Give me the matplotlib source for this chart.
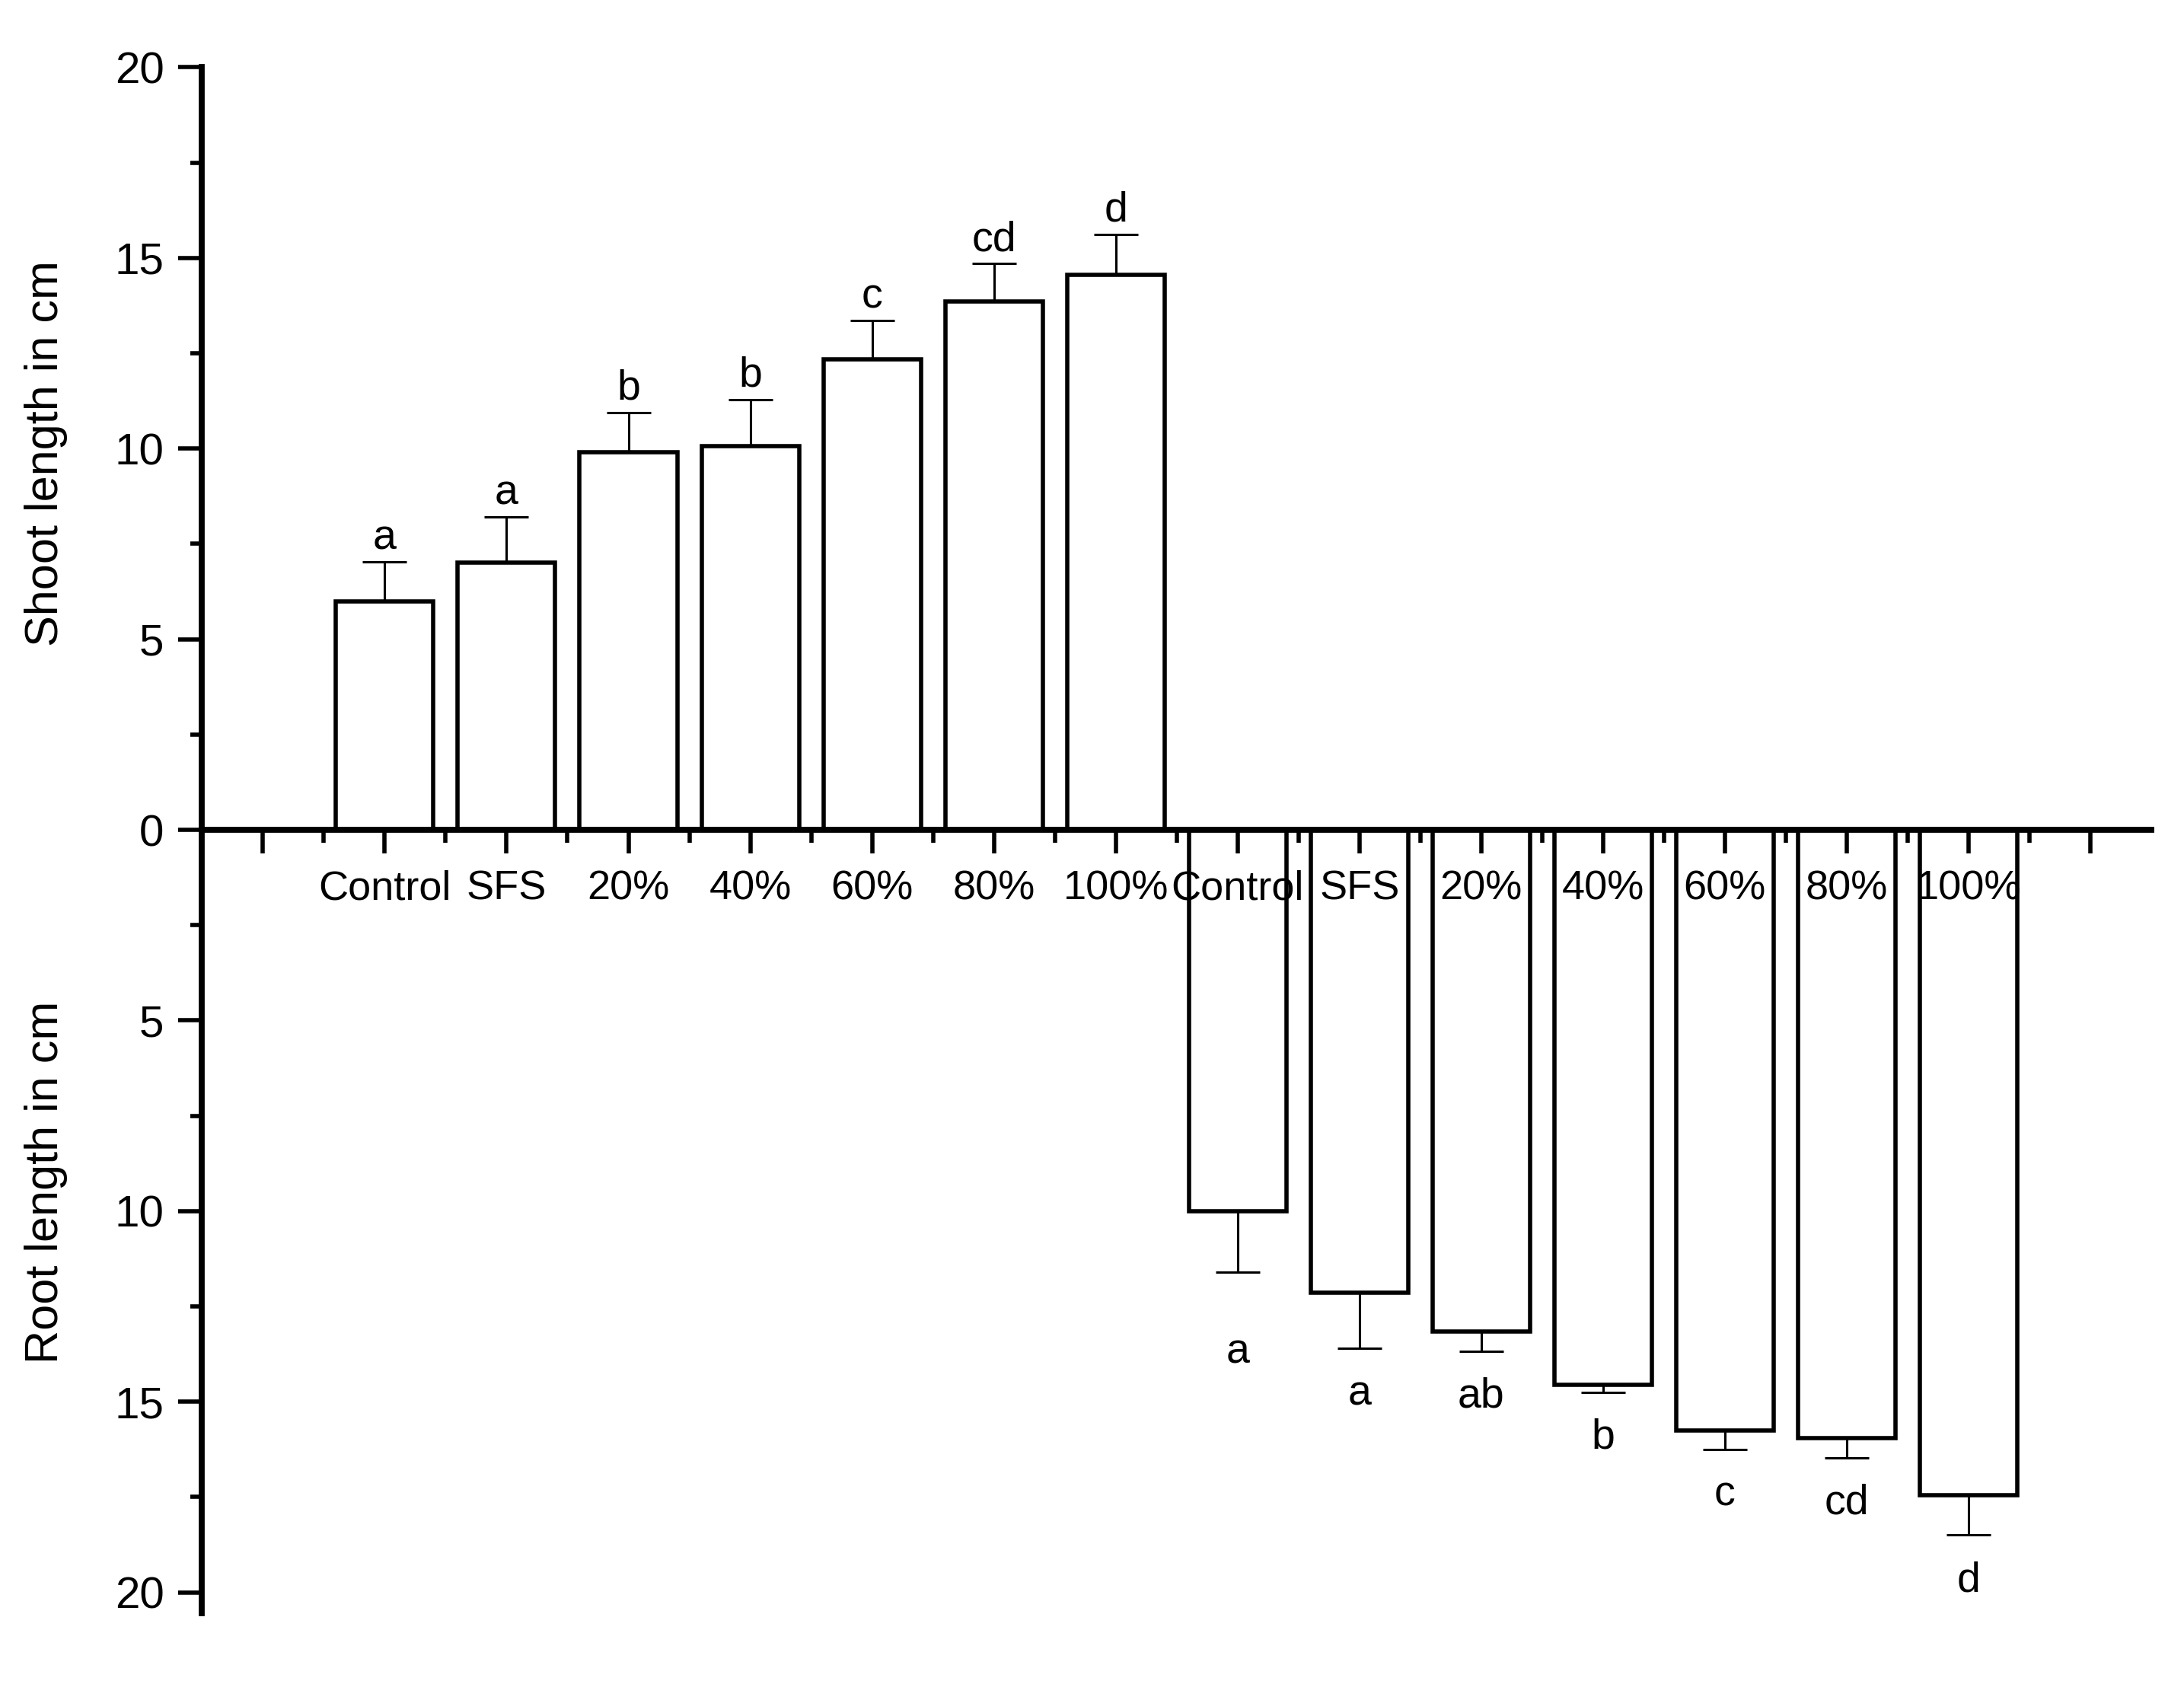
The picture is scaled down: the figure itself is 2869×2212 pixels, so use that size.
import numpy as np
import matplotlib
matplotlib.use("Agg")
import matplotlib.pyplot as plt
from matplotlib.transforms import blended_transform_factory
from matplotlib.ticker import MultipleLocator, FixedLocator, FuncFormatter

plt.rcParams["font.family"] = ["Liberation Sans", "DejaVu Sans"]

treatments = ["Control", "SFS", "20%", "40%", "60%", "80%", "100%"]

shoot_mean = [6.0, 7.0, 9.9, 10.07, 12.35, 13.85, 14.55]
shoot_err = [1.02, 1.2, 1.05, 1.22, 1.0, 1.0, 1.07]
shoot_letters = ["a", "a", "b", "b", "c", "cd", "d"]

root_mean = [10.0, 12.15, 13.15, 14.55, 15.75, 15.95, 17.45]
root_err = [1.6, 1.45, 0.52, 0.2, 0.5, 0.52, 1.05]
root_letters = ["a", "a", "ab", "b", "c", "cd", "d"]

n = len(treatments)
x_shoot = np.arange(1, n + 1)
x_root = np.arange(n + 1, 2 * n + 1)

fig = plt.figure(figsize=(14.345, 11.06), dpi=200)
ax = fig.add_axes([0.0925, 0.042, 0.8925, 0.918])
ax.set_axisbelow(False)

bar_kw = dict(width=0.8, color="white", edgecolor="black", linewidth=2.0, zorder=2)
ax.bar(x_shoot, shoot_mean, **bar_kw)
ax.bar(x_root, -np.array(root_mean), **bar_kw)

err_kw = dict(fmt="none", ecolor="black", elinewidth=1.1, capsize=10.5, capthick=1.1, zorder=1)
ax.errorbar(x_shoot, shoot_mean, yerr=[np.zeros(n), shoot_err], **err_kw)
ax.errorbar(x_root, -np.array(root_mean), yerr=[root_err, np.zeros(n)], **err_kw)

for xi, m, e, lab in zip(x_shoot, shoot_mean, shoot_err, shoot_letters):
    ax.text(xi, m + e + 0.1, lab, ha="center", va="bottom", fontsize=20)
for i, (xi, m, e, lab) in enumerate(zip(x_root, root_mean, root_err, root_letters)):
    gap = 2.1 if i == 0 else 1.2
    ax.text(xi, -(m + e + gap), lab, ha="center", va="center", fontsize=20)

ax.set_xlim(-0.5, 15.5)
ax.set_ylim(-20.55, 20)

ax.spines["top"].set_visible(False)
ax.spines["right"].set_visible(False)
ax.spines["bottom"].set_position(("data", 0))
ax.spines["left"].set_linewidth(2.8)
ax.spines["bottom"].set_linewidth(2.8)

ax.xaxis.set_major_locator(FixedLocator(np.arange(0, 16)))
ax.xaxis.set_minor_locator(FixedLocator(np.arange(0.5, 15.5, 1)))
ax.set_xticklabels([""] + treatments + treatments + [""])
ax.tick_params(axis="x", which="major", direction="out", length=11, width=2.0, pad=8, labelsize=19.5)
ax.tick_params(axis="x", which="minor", direction="out", length=6, width=2.0)

ax.yaxis.set_major_locator(MultipleLocator(5))
ax.yaxis.set_minor_locator(MultipleLocator(2.5))
ax.yaxis.set_major_formatter(FuncFormatter(lambda v, p: f"{abs(v):.0f}"))
ax.tick_params(axis="y", which="major", direction="out", length=11, width=2.0, pad=7, labelsize=21)
ax.tick_params(axis="y", which="minor", direction="out", length=5.5, width=2.0)

trans = blended_transform_factory(fig.transFigure, ax.transData)
ax.text(0.021, 9.87, "Shoot length in cm", rotation=90, ha="center", va="center",
        fontsize=22, transform=trans)
ax.text(0.021, -9.25, "Root length in cm", rotation=90, ha="center", va="center",
        fontsize=22, transform=trans)

fig.savefig("out.png", dpi=200)
